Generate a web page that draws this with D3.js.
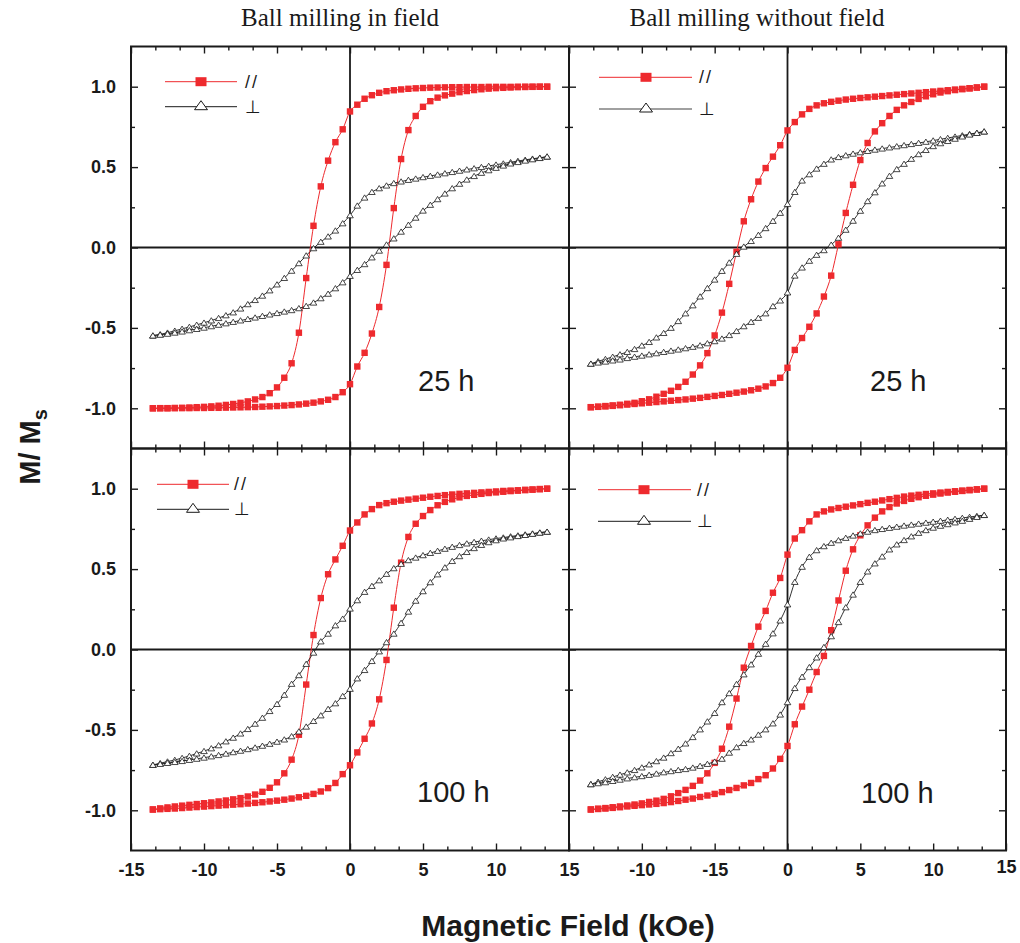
<!DOCTYPE html>
<html>
<head>
<meta charset="utf-8">
<script src="https://cdn.jsdelivr.net/npm/d3@7"></script>
<style>
  body { margin: 0; background: #fff; }
  svg { font-family: "Liberation Sans", Arial, sans-serif; }
</style>
</head>
<body>
<div id="chart"></div>
<script>
// applied field (kOe), shared by every branch
var field = [-13.5, -13, -12.5, -12, -11.5, -11, -10.5, -10, -9.5, -9, -8.5, -8, -7.5, -7,
  -6.5, -6, -5.5, -5, -4.5, -4, -3.5, -3, -2.5, -2, -1.5, -1, -0.5,
  0, 0.5, 1, 1.5, 2, 2.5, 3, 3.5, 4, 4.5, 5, 5.5, 6, 6.5,
  7, 7.5, 8, 8.5, 9, 9.5, 10, 10.5, 11, 11.5, 12, 12.5, 13, 13.5];

// M/Ms, ball milling in field, 25 h
var infield25ParDown = [-1.000, -0.999, -0.999, -0.998, -0.997, -0.995, -0.993, -0.991, -0.988, -0.984, -0.979, -0.973, -0.966, -0.957,
  -0.945, -0.930, -0.906, -0.870, -0.810, -0.720, -0.530, -0.190, 0.135, 0.380, 0.540, 0.655, 0.735,
  0.846, 0.888, 0.925, 0.947, 0.962, 0.972, 0.978, 0.983, 0.987, 0.990, 0.992, 0.994, 0.995, 0.996,
  0.997, 0.997, 0.998, 0.998, 0.998, 0.999, 0.999, 0.999, 0.999, 1.000, 1.000, 1.000, 1.000, 1.000];
var infield25ParUp = [-1.000, -1.000, -1.000, -0.999, -0.999, -0.999, -0.998, -0.998, -0.997, -0.997, -0.996, -0.995, -0.994, -0.993,
  -0.992, -0.990, -0.988, -0.986, -0.983, -0.980, -0.976, -0.971, -0.965, -0.957, -0.947, -0.930, -0.900,
  -0.850, -0.740, -0.655, -0.535, -0.370, -0.108, 0.245, 0.550, 0.730, 0.818, 0.875, 0.910, 0.932, 0.946,
  0.957, 0.966, 0.973, 0.979, 0.984, 0.988, 0.991, 0.993, 0.995, 0.997, 0.998, 0.999, 1.000, 1.000];
var infield25PerpDown = [-0.548, -0.540, -0.530, -0.518, -0.506, -0.494, -0.481, -0.468, -0.454, -0.439, -0.422, -0.404, -0.380, -0.353,
  -0.327, -0.300, -0.267, -0.230, -0.190, -0.145, -0.098, -0.050, -0.005, 0.035, 0.068, 0.105, 0.150,
  0.200, 0.260, 0.310, 0.345, 0.368, 0.385, 0.400, 0.410, 0.420, 0.428, 0.437, 0.445, 0.453, 0.461,
  0.469, 0.477, 0.485, 0.492, 0.500, 0.507, 0.515, 0.522, 0.530, 0.538, 0.545, 0.552, 0.558, 0.565];
var infield25PerpUp = [-0.548, -0.543, -0.537, -0.530, -0.523, -0.515, -0.507, -0.499, -0.490, -0.481, -0.472, -0.463, -0.454, -0.445,
  -0.436, -0.426, -0.417, -0.408, -0.399, -0.390, -0.378, -0.364, -0.343, -0.316, -0.288, -0.254, -0.217,
  -0.177, -0.140, -0.104, -0.062, -0.020, 0.018, 0.056, 0.098, 0.141, 0.185, 0.229, 0.265, 0.300, 0.335,
  0.368, 0.396, 0.422, 0.444, 0.464, 0.480, 0.495, 0.509, 0.522, 0.531, 0.540, 0.548, 0.556, 0.565];

// ball milling without field, 25 h
var nofield25ParDown = [-0.993, -0.990, -0.986, -0.982, -0.978, -0.972, -0.966, -0.956, -0.944, -0.928, -0.910, -0.891, -0.867, -0.835,
  -0.790, -0.733, -0.657, -0.547, -0.405, -0.226, -0.027, 0.163, 0.300, 0.410, 0.494, 0.565, 0.636,
  0.728, 0.780, 0.828, 0.862, 0.884, 0.897, 0.906, 0.913, 0.920, 0.925, 0.930, 0.934, 0.938, 0.942,
  0.946, 0.950, 0.954, 0.958, 0.962, 0.966, 0.970, 0.974, 0.978, 0.982, 0.986, 0.990, 0.995, 1.000];
var nofield25ParUp = [-0.993, -0.991, -0.988, -0.985, -0.981, -0.977, -0.973, -0.969, -0.965, -0.961, -0.957, -0.953, -0.949, -0.945,
  -0.940, -0.935, -0.929, -0.923, -0.917, -0.910, -0.903, -0.896, -0.888, -0.878, -0.864, -0.843, -0.810,
  -0.748, -0.637, -0.563, -0.493, -0.410, -0.305, -0.175, 0.020, 0.215, 0.390, 0.544, 0.650, 0.722, 0.773,
  0.818, 0.856, 0.884, 0.905, 0.924, 0.940, 0.953, 0.964, 0.972, 0.979, 0.985, 0.990, 0.995, 1.000];
var nofield25PerpDown = [-0.723, -0.708, -0.694, -0.680, -0.665, -0.650, -0.632, -0.610, -0.588, -0.560, -0.532, -0.500, -0.458, -0.410,
  -0.360, -0.305, -0.253, -0.200, -0.146, -0.094, -0.040, 0.005, 0.040, 0.078, 0.120, 0.165, 0.215,
  0.270, 0.345, 0.416, 0.455, 0.490, 0.520, 0.547, 0.562, 0.573, 0.583, 0.592, 0.600, 0.608, 0.615,
  0.622, 0.629, 0.636, 0.643, 0.650, 0.657, 0.665, 0.673, 0.681, 0.689, 0.697, 0.705, 0.713, 0.721];
var nofield25PerpUp = [-0.723, -0.716, -0.710, -0.703, -0.697, -0.688, -0.680, -0.673, -0.665, -0.658, -0.650, -0.642, -0.635, -0.627,
  -0.618, -0.609, -0.596, -0.583, -0.567, -0.545, -0.520, -0.490, -0.463, -0.438, -0.410, -0.365, -0.330,
  -0.280, -0.175, -0.125, -0.083, -0.046, -0.017, 0.017, 0.060, 0.110, 0.166, 0.228, 0.288, 0.343, 0.398,
  0.445, 0.487, 0.520, 0.551, 0.580, 0.606, 0.630, 0.648, 0.662, 0.676, 0.690, 0.702, 0.712, 0.721];

// ball milling in field, 100 h
var infield100ParDown = [-0.995, -0.988, -0.982, -0.976, -0.971, -0.966, -0.961, -0.956, -0.951, -0.945, -0.939, -0.932, -0.924, -0.914,
  -0.902, -0.885, -0.860, -0.826, -0.770, -0.685, -0.530, -0.218, 0.090, 0.320, 0.468, 0.560, 0.645,
  0.740, 0.790, 0.840, 0.873, 0.898, 0.910, 0.919, 0.926, 0.932, 0.938, 0.944, 0.950, 0.955, 0.960,
  0.964, 0.968, 0.971, 0.974, 0.977, 0.980, 0.983, 0.986, 0.988, 0.990, 0.993, 0.995, 0.998, 1.000];
var infield100ParUp = [-0.995, -0.993, -0.991, -0.989, -0.986, -0.983, -0.980, -0.977, -0.974, -0.971, -0.968, -0.965, -0.962, -0.958,
  -0.954, -0.950, -0.945, -0.940, -0.934, -0.927, -0.919, -0.910, -0.898, -0.883, -0.862, -0.830, -0.775,
  -0.720, -0.640, -0.555, -0.460, -0.310, -0.065, 0.260, 0.540, 0.700, 0.782, 0.830, 0.867, 0.897, 0.918,
  0.934, 0.946, 0.955, 0.962, 0.968, 0.973, 0.977, 0.981, 0.985, 0.988, 0.991, 0.994, 0.997, 1.000];
var infield100PerpDown = [-0.718, -0.707, -0.697, -0.687, -0.675, -0.662, -0.647, -0.632, -0.615, -0.596, -0.572, -0.549, -0.523, -0.495,
  -0.462, -0.425, -0.383, -0.339, -0.282, -0.214, -0.160, -0.090, -0.020, 0.050, 0.098, 0.150, 0.191,
  0.254, 0.306, 0.358, 0.395, 0.430, 0.470, 0.505, 0.532, 0.555, 0.571, 0.586, 0.600, 0.613, 0.626,
  0.638, 0.649, 0.659, 0.668, 0.676, 0.683, 0.690, 0.696, 0.703, 0.709, 0.715, 0.721, 0.727, 0.732];
var infield100PerpUp = [-0.718, -0.712, -0.706, -0.700, -0.694, -0.687, -0.680, -0.673, -0.665, -0.657, -0.648, -0.639, -0.630, -0.620,
  -0.610, -0.599, -0.587, -0.574, -0.560, -0.540, -0.510, -0.480, -0.445, -0.410, -0.370, -0.335, -0.290,
  -0.245, -0.180, -0.128, -0.072, -0.012, 0.045, 0.098, 0.165, 0.235, 0.303, 0.362, 0.418, 0.467, 0.510,
  0.550, 0.580, 0.606, 0.630, 0.650, 0.667, 0.679, 0.690, 0.697, 0.705, 0.712, 0.719, 0.726, 0.732];

// ball milling without field, 100 h
var nofield100ParDown = [-0.995, -0.990, -0.986, -0.981, -0.976, -0.970, -0.964, -0.957, -0.948, -0.940, -0.929, -0.913, -0.893, -0.873,
  -0.848, -0.815, -0.770, -0.705, -0.617, -0.480, -0.305, -0.113, 0.022, 0.142, 0.240, 0.353, 0.445,
  0.590, 0.690, 0.742, 0.797, 0.840, 0.859, 0.871, 0.880, 0.888, 0.896, 0.904, 0.912, 0.919, 0.927,
  0.935, 0.943, 0.951, 0.957, 0.962, 0.967, 0.971, 0.976, 0.980, 0.984, 0.988, 0.992, 0.996, 1.000];
var nofield100ParUp = [-0.995, -0.992, -0.989, -0.985, -0.981, -0.976, -0.972, -0.968, -0.964, -0.960, -0.955, -0.949, -0.942, -0.934,
  -0.927, -0.917, -0.908, -0.898, -0.887, -0.874, -0.861, -0.845, -0.830, -0.806, -0.782, -0.740, -0.680,
  -0.600, -0.465, -0.355, -0.250, -0.140, -0.040, 0.120, 0.305, 0.490, 0.623, 0.710, 0.772, 0.820, 0.859,
  0.886, 0.908, 0.924, 0.937, 0.947, 0.956, 0.963, 0.970, 0.976, 0.981, 0.986, 0.991, 0.995, 1.000];
var nofield100PerpDown = [-0.838, -0.823, -0.808, -0.793, -0.779, -0.765, -0.750, -0.734, -0.715, -0.695, -0.673, -0.645, -0.618, -0.585,
  -0.545, -0.497, -0.448, -0.395, -0.328, -0.272, -0.215, -0.155, -0.093, -0.027, 0.035, 0.100, 0.180,
  0.280, 0.420, 0.514, 0.576, 0.617, 0.642, 0.663, 0.679, 0.694, 0.708, 0.721, 0.732, 0.742, 0.749,
  0.756, 0.763, 0.770, 0.776, 0.782, 0.788, 0.794, 0.800, 0.806, 0.812, 0.818, 0.824, 0.830, 0.836];
var nofield100PerpUp = [-0.838, -0.832, -0.826, -0.818, -0.810, -0.802, -0.795, -0.788, -0.780, -0.772, -0.764, -0.757, -0.750, -0.744,
  -0.735, -0.724, -0.712, -0.698, -0.680, -0.642, -0.608, -0.582, -0.560, -0.530, -0.497, -0.460, -0.405,
  -0.328, -0.240, -0.170, -0.110, -0.050, 0.015, 0.082, 0.170, 0.262, 0.341, 0.420, 0.485, 0.535, 0.578,
  0.622, 0.653, 0.680, 0.703, 0.725, 0.742, 0.757, 0.769, 0.779, 0.790, 0.800, 0.812, 0.824, 0.836];

// tick labels
var xTicks = [-15, -10, -5, 0, 5, 10, 15];
var xLabelsLeft = ["-15", "-10", "-5", "0", "5", "10", "15"];
var xLabelsRight = ["", "-10", "-15", "0", "5", "10", "15"];
var yTicks = [-1, -0.5, 0, 0.5, 1];
var yLabels = ["-1.0", "-0.5", "0.0", "0.5", "1.0"];
var columnTitles = ["Ball milling in field", "Ball milling without field"];
var seriesNames = ["//", "\u22A5"];

var RED = "#ee2a2e";
var INK = "#1a1a1a";

var svgWidth = 1020;
var svgHeight = 943;

var colX = [[131, 569], [569, 1006]];
var rowY = [[46.5, 448.5], [448.5, 850.5]];
var titleX = [340, 757];

var panels = [
  { col: 0, row: 0, parDown: infield25ParDown, parUp: infield25ParUp, perpDown: infield25PerpDown, perpUp: infield25PerpUp,
    label: "25 h", labelPos: [418, 391], legend: { x1: 165, x2: 237, mx: 201, tx: 245, y1: 81.7, y2: 106.7, grey: false } },
  { col: 1, row: 0, parDown: nofield25ParDown, parUp: nofield25ParUp, perpDown: nofield25PerpDown, perpUp: nofield25PerpUp,
    label: "25 h", labelPos: [870, 391], legend: { x1: 599, x2: 692, mx: 646, tx: 699, y1: 77.3, y2: 109, grey: true } },
  { col: 0, row: 1, parDown: infield100ParDown, parUp: infield100ParUp, perpDown: infield100PerpDown, perpUp: infield100PerpUp,
    label: "100 h", labelPos: [417, 802], legend: { x1: 157, x2: 229, mx: 193, tx: 234, y1: 484.3, y2: 509.3, grey: false } },
  { col: 1, row: 1, parDown: nofield100ParDown, parUp: nofield100ParUp, perpDown: nofield100PerpDown, perpUp: nofield100PerpUp,
    label: "100 h", labelPos: [861, 803], legend: { x1: 598, x2: 691, mx: 644, tx: 697, y1: 489.7, y2: 521.3, grey: false } }
];

var svg = d3.select("#chart")
  .append("svg")
  .attr("width", svgWidth)
  .attr("height", svgHeight);

function trianglePath(s) {
  // open triangle, s = half width
  return "M" + (-s) + "," + (s * 0.75) + "L" + s + "," + (s * 0.75) + "L0," + (-s * 0.85) + "Z";
}

function styleAxis(sel) {
  sel.select(".domain").remove();
  sel.selectAll(".tick line").attr("stroke", INK).attr("stroke-width", 1.4);
  sel.selectAll(".tick text")
    .attr("fill", INK)
    .attr("font-size", 18)
    .attr("font-weight", "bold")
    .attr("font-family", "'Liberation Sans', Arial, sans-serif");
}

var xMinor = d3.range(-15, 15.01, 5 / 3).filter(function(v, i) { return i % 3 !== 0; });
var yMinor = [-0.75, -0.25, 0.25, 0.75];

panels.forEach(function(p) {
  var x = d3.scaleLinear().domain([-15, 15]).range(colX[p.col]);
  var y = d3.scaleLinear().domain([-1.25, 1.25]).range([rowY[p.row][1], rowY[p.row][0]]);
  var g = svg.append("g");
  var top = rowY[p.row][0], bottom = rowY[p.row][1];
  var left = colX[p.col][0], right = colX[p.col][1];

  // zero lines
  g.append("line").attr("x1", x(0)).attr("x2", x(0)).attr("y1", top).attr("y2", bottom)
    .attr("stroke", INK).attr("stroke-width", 1.8);
  g.append("line").attr("x1", left).attr("x2", right).attr("y1", y(0)).attr("y2", y(0))
    .attr("stroke", INK).attr("stroke-width", 1.8);

  // axes: ticks inward on all four sides
  var xLabels = p.col === 0 ? xLabelsLeft : xLabelsRight;
  var bottomAxis = g.append("g").attr("transform", "translate(0," + bottom + ")")
    .call(d3.axisBottom(x).tickValues(xTicks).tickSize(-7).tickPadding(13)
      .tickFormat(function(d, i) { return p.row === 1 ? xLabels[i] : ""; }))
    .call(styleAxis);
  if (p.row === 1 && p.col === 1) {
    // the last label sits a little higher in the original
    bottomAxis.selectAll(".tick text").filter(function(d) { return d === 15; }).attr("y", 10);
  }
  g.append("g").attr("transform", "translate(0," + bottom + ")")
    .call(d3.axisBottom(x).tickValues(xMinor).tickSize(-4).tickFormat(""))
    .call(styleAxis);
  g.append("g").attr("transform", "translate(0," + top + ")")
    .call(d3.axisTop(x).tickValues(xTicks).tickSize(-7).tickFormat(""))
    .call(styleAxis);
  g.append("g").attr("transform", "translate(0," + top + ")")
    .call(d3.axisTop(x).tickValues(xMinor).tickSize(-4).tickFormat(""))
    .call(styleAxis);
  g.append("g").attr("transform", "translate(" + left + ",0)")
    .call(d3.axisLeft(y).tickValues(yTicks).tickSize(-7).tickPadding(15)
      .tickFormat(function(d, i) { return p.col === 0 ? yLabels[i] : ""; }))
    .call(styleAxis);
  g.append("g").attr("transform", "translate(" + left + ",0)")
    .call(d3.axisLeft(y).tickValues(yMinor).tickSize(-4).tickFormat(""))
    .call(styleAxis);
  g.append("g").attr("transform", "translate(" + right + ",0)")
    .call(d3.axisRight(y).tickValues(yTicks).tickSize(-7).tickFormat(""))
    .call(styleAxis);
  g.append("g").attr("transform", "translate(" + right + ",0)")
    .call(d3.axisRight(y).tickValues(yMinor).tickSize(-4).tickFormat(""))
    .call(styleAxis);

  // frame
  g.append("rect").attr("x", left).attr("y", top)
    .attr("width", right - left).attr("height", bottom - top)
    .attr("fill", "none").attr("stroke", INK).attr("stroke-width", 2);

  var line = d3.line()
    .x(function(d) { return x(d[0]); })
    .y(function(d) { return y(d[1]); })
    .curve(d3.curveMonotoneX);

  function pairs(values) {
    return field.map(function(h, i) { return [h, values[i]]; });
  }

  // parallel (red squares)
  [p.parDown, p.parUp].forEach(function(branch) {
    var pts = pairs(branch);
    g.append("path").datum(pts).attr("d", line)
      .attr("fill", "none").attr("stroke", RED).attr("stroke-width", 1);
    g.append("g").selectAll("rect")
      .data(pts).enter().append("rect")
      .attr("x", function(d) { return x(d[0]) - 3.2; })
      .attr("y", function(d) { return y(d[1]) - 3.2; })
      .attr("width", 6.4).attr("height", 6.4)
      .attr("fill", RED);
  });

  // perpendicular (open triangles)
  [p.perpDown, p.perpUp].forEach(function(branch) {
    var pts = pairs(branch);
    g.append("path").datum(pts).attr("d", line)
      .attr("fill", "none").attr("stroke", INK).attr("stroke-width", 0.9);
    g.append("g").selectAll("path")
      .data(pts).enter().append("path")
      .attr("transform", function(d) { return "translate(" + x(d[0]) + "," + y(d[1]) + ")"; })
      .attr("d", trianglePath(3.3))
      .attr("fill", "#fff").attr("stroke", INK).attr("stroke-width", 0.8);
  });

  // legend
  var lg = p.legend;
  g.append("line").attr("x1", lg.x1).attr("x2", lg.x2).attr("y1", lg.y1).attr("y2", lg.y1)
    .attr("stroke", RED).attr("stroke-width", 1);
  g.append("rect").attr("x", lg.mx - 5.5).attr("y", lg.y1 - 4.5).attr("width", 11).attr("height", 9)
    .attr("fill", RED);
  g.append("text").attr("x", lg.tx).attr("y", lg.y1 + 6)
    .attr("font-size", 18).attr("fill", INK).attr("letter-spacing", 2)
    .text(seriesNames[0]);
  g.append("line").attr("x1", lg.x1).attr("x2", lg.x2).attr("y1", lg.y2).attr("y2", lg.y2)
    .attr("stroke", lg.grey ? "#808080" : INK).attr("stroke-width", lg.grey ? 1.5 : 1);
  g.append("path").attr("transform", "translate(" + lg.mx + "," + (lg.y2 - 1) + ")")
    .attr("d", "M-6.5,4L6.5,4L0,-5Z")
    .attr("fill", "#fff").attr("stroke", INK).attr("stroke-width", 1);
  g.append("text").attr("x", lg.tx).attr("y", lg.y2 + 6)
    .attr("font-size", 18).attr("fill", INK)
    .attr("font-family", "'DejaVu Sans', sans-serif")
    .text(seriesNames[1]);

  // milling time
  g.append("text").attr("x", p.labelPos[0]).attr("y", p.labelPos[1])
    .attr("font-size", 29).attr("fill", INK)
    .text(p.label);
});

// column titles
columnTitles.forEach(function(t, i) {
  svg.append("text")
    .attr("x", titleX[i])
    .attr("y", 26)
    .attr("text-anchor", "middle")
    .attr("font-family", "'Liberation Serif', 'Times New Roman', serif")
    .attr("font-size", 25)
    .attr("fill", INK)
    .text(t);
});

// axis titles
var yTitle = svg.append("text")
  .attr("transform", "translate(40,447) rotate(-90)")
  .attr("text-anchor", "middle")
  .attr("font-size", 29)
  .attr("font-weight", "bold")
  .attr("fill", INK);
yTitle.append("tspan").text("M/ M");
yTitle.append("tspan").attr("font-size", 20).attr("dy", 7).text("s");

svg.append("text")
  .attr("x", 568)
  .attr("y", 936)
  .attr("text-anchor", "middle")
  .attr("font-size", 30)
  .attr("font-weight", "bold")
  .attr("fill", INK)
  .text("Magnetic Field (kOe)");
</script>
</body>
</html>
